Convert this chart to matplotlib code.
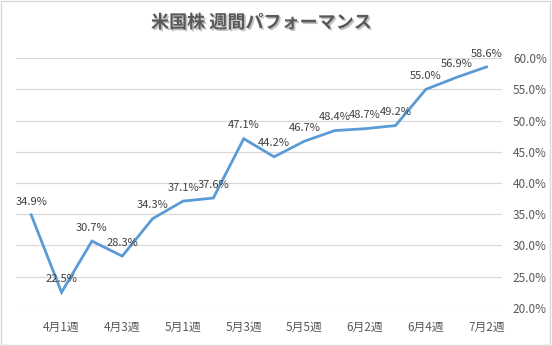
import matplotlib
matplotlib.use("Agg")
import matplotlib.pyplot as plt
import matplotlib.patheffects as pe
from matplotlib.patches import Rectangle
from matplotlib.ticker import FuncFormatter, MultipleLocator

plt.rcParams["font.family"] = ["Noto Sans CJK JP", "DejaVu Sans"]

# weekly performance of US stocks (%)
weeks = ["3月5週", "4月1週", "4月2週", "4月3週", "4月4週", "5月1週", "5月2週",
         "5月3週", "5月4週", "5月5週", "6月1週", "6月2週", "6月3週", "6月4週",
         "7月1週", "7月2週"]
perf = [34.9, 22.5, 30.7, 28.3, 34.3, 37.1, 37.6, 47.1, 44.2, 46.7, 48.4,
        48.7, 49.2, 55.0, 56.9, 58.6]

LINE = "#5B9BD5"
TXT = "#595959"
GRID = "#D9D9D9"

fig = plt.figure(figsize=(5.52, 3.46), dpi=100)
ax = fig.add_axes([0.029, 0.110, 0.880, 0.722])

x = list(range(len(weeks)))
ax.plot(x, perf, color=LINE, lw=2.0, solid_joinstyle="miter", zorder=3)
for xi, v in zip(x, perf):
    ax.annotate(f"{v:.1f}%", (xi, v), xytext=(0, 6), textcoords="offset points",
                ha="center", va="bottom", fontsize=8, color="#404040", zorder=4)

ax.set_xlim(-0.5, len(weeks) - 0.5)
ax.set_ylim(20, 60)
ax.yaxis.set_major_locator(MultipleLocator(5))
ax.yaxis.set_major_formatter(FuncFormatter(lambda v, p: f"{v:.1f}%"))
ax.yaxis.tick_right()
ax.grid(axis="y", color=GRID, lw=0.9)
ax.set_axisbelow(True)

ax.set_xticks(x[1::2])
ax.set_xticklabels(weeks[1::2])
ax.tick_params(axis="both", length=0, labelsize=8.5, labelcolor=TXT)
ax.tick_params(axis="x", pad=9)
ax.tick_params(axis="y", pad=8)
for s in ax.spines.values():
    s.set_visible(False)

fig.text(0.473, 0.935, "米国株 週間パフォーマンス", ha="center", va="center",
         fontsize=13, fontweight="bold", color=TXT,
         path_effects=[pe.withSimplePatchShadow(offset=(1.2, -1.2),
                                                shadow_rgbFace="#999999",
                                                alpha=0.6)])

fig.add_artist(Rectangle((0.002, 0.003), 0.995, 0.994, transform=fig.transFigure,
                         fill=False, edgecolor=GRID, lw=1.0))

fig.savefig("out.png", dpi=100, facecolor="white")
